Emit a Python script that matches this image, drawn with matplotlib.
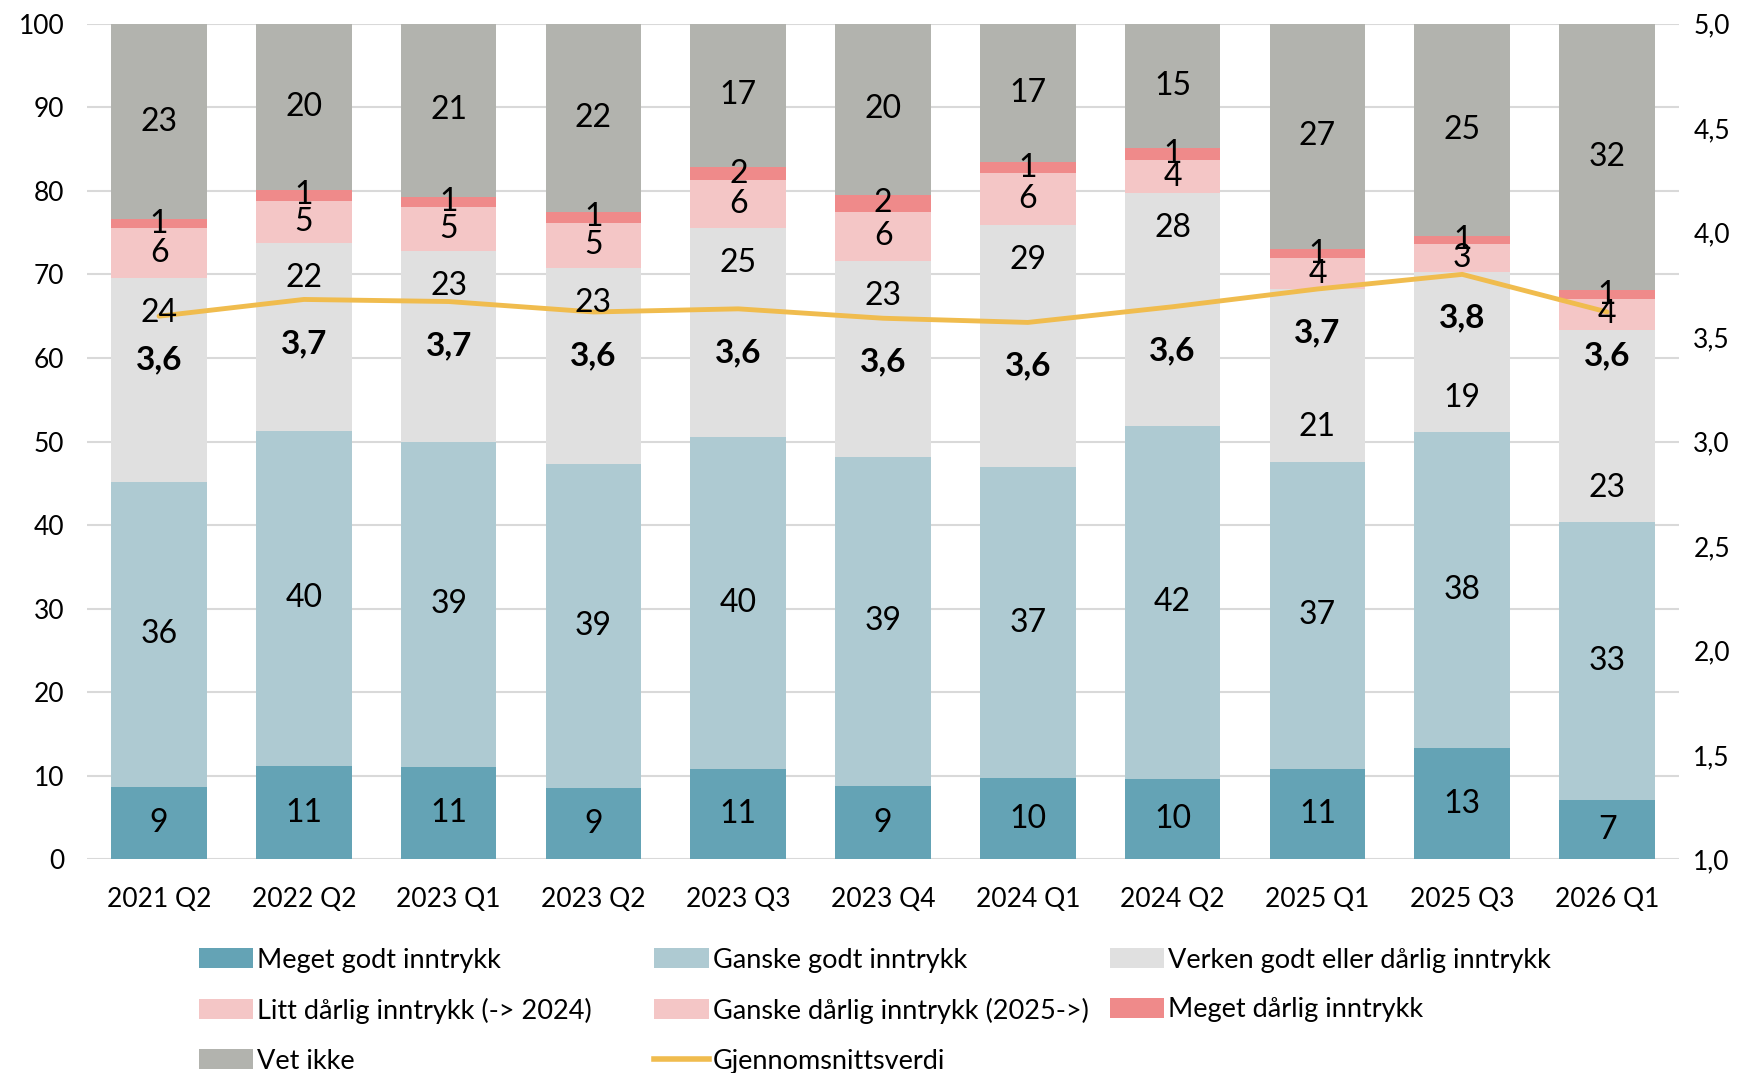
import matplotlib
matplotlib.use("Agg")
import matplotlib.pyplot as plt
import numpy as np
from matplotlib.patches import Patch
from matplotlib.lines import Line2D

plt.rcParams['font.family'] = ['Lato', 'DejaVu Sans']

categories = ["2021 Q2", "2022 Q2", "2023 Q1", "2023 Q2", "2023 Q3", "2023 Q4",
              "2024 Q1", "2024 Q2", "2025 Q1", "2025 Q3", "2026 Q1"]
meget_godt = [8.7, 11.2, 11.1, 8.6, 10.8, 8.75, 9.7, 9.6, 10.8, 13.3, 7.1]
ganske_godt = [36.5, 40.1, 38.9, 38.7, 39.7, 39.45, 37.3, 42.3, 36.8, 37.8, 33.3]
verken = [24.4, 22.45, 22.8, 23.45, 25.0, 23.45, 28.9, 27.8, 20.7, 19.2, 23.0]
litt_darlig = [5.95, 5.0, 5.3, 5.45, 5.8, 5.85, 6.2, 4.0, 0, 0, 0]
ganske_darlig = [0, 0, 0, 0, 0, 0, 0, 0, 3.6, 3.35, 3.6]
meget_darlig = [1.05, 1.4, 1.2, 1.3, 1.5, 2.05, 1.3, 1.4, 1.15, 0.95, 1.1]
vet_ikke = [23.3, 19.85, 20.7, 22.45, 17.2, 20.45, 16.6, 14.9, 26.95, 25.4, 31.9]
snitt = [3.60, 3.68, 3.67, 3.62, 3.635, 3.59, 3.57, 3.645, 3.73, 3.80, 3.62]

series = [
    ("Meget godt inntrykk", meget_godt, "#64A3B5"),
    ("Ganske godt inntrykk", ganske_godt, "#AECAD2"),
    ("Verken godt eller dårlig inntrykk", verken, "#E0E0E0"),
    ("Litt dårlig inntrykk (-> 2024)", litt_darlig, "#F4C6C6"),
    ("Ganske dårlig inntrykk (2025->)", ganske_darlig, "#F4C6C6"),
    ("Meget dårlig inntrykk", meget_darlig, "#EF8A8A"),
    ("Vet ikke", vet_ikke, "#B2B3AE"),
]
line_color = "#F0BC4E"
# layout: where the "Verken" label sits inside its segment (near top or near bottom)
verken_label_top = [True] * 8 + [False] * 3

fig = plt.figure(figsize=(17.44, 10.73), dpi=100)
ax = fig.add_axes([0.0497, 0.199, 0.9133, 0.779])
ax2 = ax.twinx()

x = np.arange(len(categories))
bottom = np.zeros(len(categories))
for si, (name, vals, col) in enumerate(series):
    vals = np.array(vals, dtype=float)
    ax.bar(x, vals, bottom=bottom, width=0.66, color=col, zorder=2)
    for i, v in enumerate(vals):
        if v > 0:
            ypos = bottom[i] + v / 2
            if si == 2:
                ypos = bottom[i] + v - 4.2 if verken_label_top[i] else bottom[i] + 4.1
            ax2.text(x[i], ypos, f"{round(v):d}", transform=ax.transData,
                     ha='center', va='center', fontsize=23, color='black', zorder=5)
    bottom += vals

ax2.plot(x, snitt, color=line_color, lw=3.5, zorder=3, solid_capstyle='round')
for i, v in enumerate(snitt):
    ax2.text(x[i], v - 0.21, f"{v:.1f}".replace('.', ','), ha='center', va='center',
             fontsize=24, fontweight='bold', color='black', zorder=6)

ax.set_xlim(-0.5, len(categories) - 0.5)
ax.set_ylim(0, 100)
ax2.set_ylim(1.0, 5.0)
ax.set_yticks(np.arange(0, 101, 10))
ax2.set_yticks(np.arange(1.0, 5.01, 0.5))
ax2.set_yticklabels([f"{t:.1f}".replace('.', ',') for t in np.arange(1.0, 5.01, 0.5)])
ax.set_xticks(x)
ax.set_xticklabels(categories)
ax.grid(axis='y', color='#D9D9D9', lw=1.5, zorder=0)
ax.set_axisbelow(True)
for a in (ax, ax2):
    for s in a.spines.values():
        s.set_visible(False)
    a.tick_params(length=0, labelsize=19)
ax.tick_params(axis='x', pad=20, labelsize=19)
ax.tick_params(axis='y', pad=16)
ax2.tick_params(axis='y', pad=10)

handles = [Patch(facecolor=c, label=n) for n, _, c in series]
handles.append(Line2D([0], [0], color=line_color, lw=4, label="Gjennomsnittsverdi"))
cols = [[handles[0], handles[3], handles[6]],
        [handles[1], handles[4], handles[7]],
        [handles[2], handles[5]]]
xs = [0.108, 0.369, 0.630]
for hs, xx in zip(cols, xs):
    fig.legend(handles=hs, loc='upper left', bbox_to_anchor=(xx, 0.127),
               frameon=False, fontsize=19.5, handlelength=2.0, handleheight=0.79,
               handletextpad=0.15, labelspacing=0.92, borderaxespad=0)

fig.savefig("out.png", dpi=100)
